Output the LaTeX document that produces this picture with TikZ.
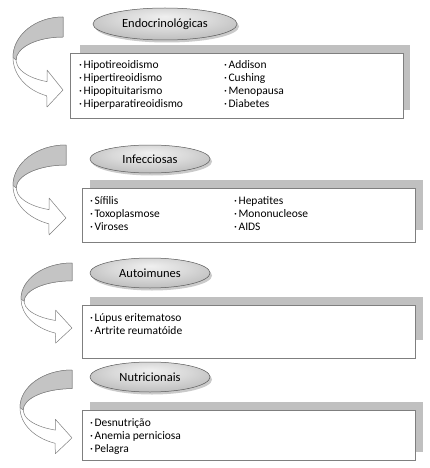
\documentclass[tikz,border=0pt]{standalone}
\usepackage{fontspec}
\setmainfont{Carlito}
\usepackage{tikz}
\usetikzlibrary{positioning, shadows, shapes.geometric}
\definecolor{rimgray}{HTML}{7F7F7F}
\definecolor{bargray}{HTML}{C0C0C0}
\definecolor{foldgray}{HTML}{C4C4C4}
\pgfdeclareradialshading{ovalshade}{\pgfpoint{0bp}{12bp}}{color(0bp)=(gray!12); color(16bp)=(gray!30); color(36bp)=(gray!60); color(50bp)=(gray!78)}
\tikzset{
  oval/.style    = {ellipse, draw=rimgray!70!black, line width=0.5pt,
                    shading=ovalshade, inner sep=0pt,
                    drop shadow={shadow xshift=2pt, shadow yshift=-2.5pt,
                                 fill=gray!70, opacity=0.6},
                    font=\fontsize{12.5}{14}\selectfont},
  back/.style    = {rectangle, fill=bargray, draw=none, anchor=north west,
                    inner sep=0pt},
  card/.style    = {rectangle, fill=white, draw=rimgray, line width=0.6pt,
                    anchor=north west, inner sep=0pt},
  items/.style   = {align=left, inner sep=0pt,
                    font=\fontsize{11.5}{13}\selectfont},
  ribline/.style = {draw=rimgray, line width=0.5pt, line join=round},
}
\newcommand{\dotitem}{\textperiodcentered\hspace{1.5pt}}
% curved ribbon arrow: #1,#2 top end, #3,#4 scales
\newcommand{\bendarrow}[4]{%
  \begin{scope}[shift={(#1,#2)}, xscale=#3, yscale=#4]
    \path[ribline, fill=white] (0,0)
      arc[start angle=270, end angle=109, x radius=50, y radius=40.5]
      -- (-16,90) -- (0,73) -- (-16,53) -- (-16,64.6)
      arc[start angle=110, end angle=270, x radius=47, y radius=23]
      -- cycle;
    \path[ribline, fill=foldgray] (0,0)
      arc[start angle=270, end angle=180, x radius=50, y radius=40.5]
      -- (-47,43)
      arc[start angle=180, end angle=270, x radius=47, y radius=23]
      -- cycle;
  \end{scope}}

\begin{document}
\begin{tikzpicture}[x=1pt, y=-1pt]
  \useasboundingbox (0,0) rectangle (429,468);

  % Endocrinologicas
  \bendarrow{63}{17}{1}{1}
  \node[back, minimum width=330pt, minimum height=65pt] (endoback) at (80,45) {};
  \node[card, minimum width=333pt, minimum height=65pt] (endocard) at (70,53) {};
  \node[oval, minimum width=144pt, minimum height=32pt] (endo) at (165,24) {Endocrinológicas};
  \node[items, below right=7.2pt and 9pt of endocard.north west] (endoleft)
       {\dotitem Hipotireoidismo\\ \dotitem Hipertireoidismo\\ \dotitem Hipopituitarismo\\ \dotitem Hiperparatireoidismo};
  \node[items, below right=7.2pt and 154pt of endocard.north west] (endoright)
       {\dotitem Addison\\ \dotitem Cushing\\ \dotitem Menopausa\\ \dotitem Diabetes};

  % Infecciosas
  \bendarrow{66}{145}{1.06}{1}
  \node[back, minimum width=333pt, minimum height=50pt] (infback) at (90,180) {};
  \node[card, minimum width=333pt, minimum height=54pt] (infcard) at (82,188) {};
  \node[oval, minimum width=120pt, minimum height=28pt] (inf) at (150,159) {Infecciosas};
  \node[items, below right=8.2pt and 8pt of infcard.north west] (infleft)
       {\dotitem Sífilis\\ \dotitem Toxoplasmose\\ \dotitem Viroses};
  \node[items, below right=8.2pt and 152pt of infcard.north west] (infright)
       {\dotitem Hepatites\\ \dotitem Mononucleose\\ \dotitem AIDS};

  % Autoimunes
  \bendarrow{72}{263}{1.02}{0.89}
  \node[back, minimum width=333pt, minimum height=43pt] (autoback) at (90,297) {};
  \node[card, minimum width=333pt, minimum height=53pt] (autocard) at (82,305) {};
  \node[oval, minimum width=120pt, minimum height=30pt] (auto) at (150,273) {Autoimunes};
  \node[items, below right=8.2pt and 8pt of autocard.north west] (autoleft)
       {\dotitem Lúpus eritematoso\\ \dotitem Artrite reumatóide};

  % Nutricionais
  \bendarrow{72}{370}{1.04}{0.93}
  \node[back, minimum width=333pt, minimum height=50pt] (nutback) at (90,402) {};
  \node[card, minimum width=333pt, minimum height=50pt] (nutcard) at (82,410) {};
  \node[oval, minimum width=120pt, minimum height=30pt] (nut) at (150,377) {Nutricionais};
  \node[items, below right=8.2pt and 8pt of nutcard.north west] (nutleft)
       {\dotitem Desnutrição\\ \dotitem Anemia perniciosa\\ \dotitem Pelagra};

\end{tikzpicture}
\end{document}
